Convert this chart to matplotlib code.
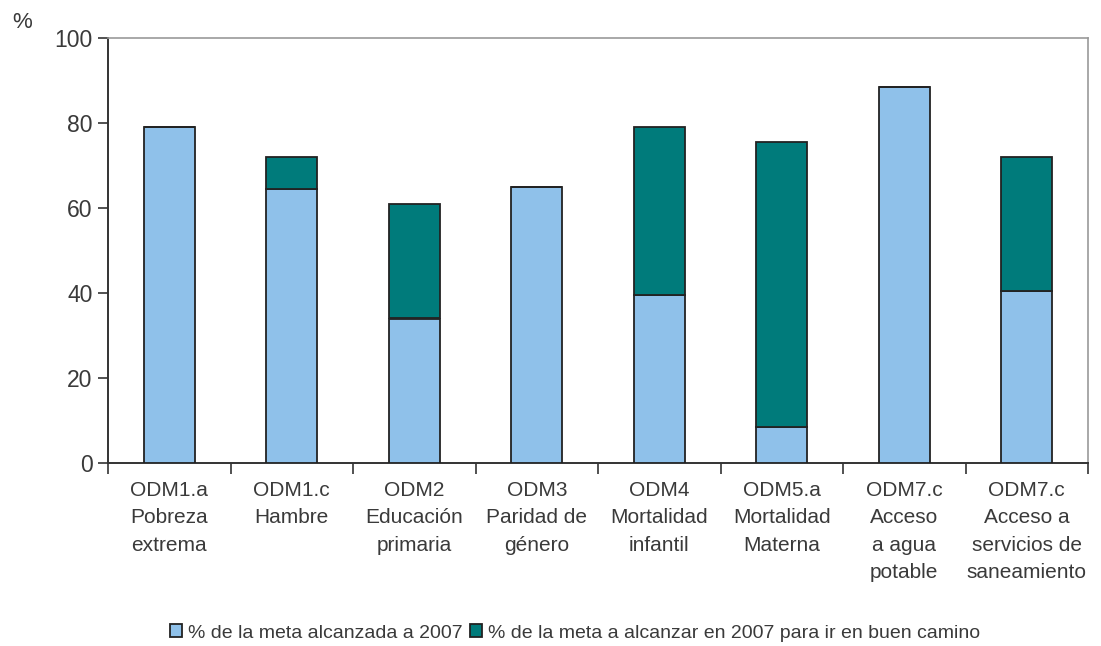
import matplotlib.pyplot as plt
import numpy as np

# Data
categories = [
    "ODM1.a\nPobreza\nextrema",
    "ODM1.c\nHambre",
    "ODM2\nEducación\nprimaria",
    "ODM3\nParidad de\ngénero",
    "ODM4\nMortalidad\ninfantil",
    "ODM5.a\nMortalidad\nMaterna",
    "ODM7.c\nAcceso\na agua\npotable",
    "ODM7.c\nAcceso a\nservicios de\nsaneamiento",
]
alcanzada = [79, 64.5, 34, 65, 39.5, 8.5, 88.5, 40.5]
a_alcanzar = [79, 72, 61, 65, 79, 75.5, 88.5, 72]
legend_labels = ["% de la meta alcanzada a 2007",
                 "% de la meta a alcanzar en 2007 para ir en buen camino"]

blue = "#8fc1ea"
teal = "#007b7b"
text_col = "#3a3a3a"

plt.rcParams['font.family'] = ['Liberation Sans', 'DejaVu Sans']

fig = plt.figure(figsize=(11.01, 6.46), dpi=100)
ax = fig.add_axes([108 / 1101, 1 - 463 / 646, 980 / 1101, 425 / 646])

x = np.arange(len(categories))
remaining = np.array(a_alcanzar) - np.array(alcanzada)
w = 0.42
ax.bar(x, alcanzada, width=w, color=blue, edgecolor="#222222", linewidth=1.3,
       label=legend_labels[0], zorder=3)
ax.bar(x, remaining, bottom=alcanzada, width=w, color=teal, edgecolor="#222222",
       linewidth=1.3, label=legend_labels[1], zorder=3)

ax.set_xlim(-0.5, len(categories) - 0.5)
ax.set_ylim(0, 100)
ax.set_yticks(range(0, 101, 20))
ax.tick_params(axis='y', direction='out', length=7, width=1.2, colors="#333333",
               labelsize=16.5, labelcolor=text_col, pad=4)

# x ticks at category boundaries, labels at centers
ax.set_xticks(np.arange(-0.5, len(categories), 1))
ax.set_xticklabels([])
ax.set_xticks(x, minor=True)
ax.set_xticklabels(categories, minor=True, fontsize=15, color=text_col,
                   linespacing=1.55, va='top')
ax.tick_params(axis='x', which='major', direction='out', length=8, width=1.2,
               colors="#333333")
ax.tick_params(axis='x', which='minor', length=0, pad=13)

for s in ['left', 'bottom']:
    ax.spines[s].set_color("#333333")
    ax.spines[s].set_linewidth(1.4)
for s in ['top', 'right']:
    ax.spines[s].set_color("#999999")
    ax.spines[s].set_linewidth(1.2)

fig.text(12 / 1101, 1 - 22 / 646, "%", fontsize=16, color=text_col, va='center')

fig.legend(loc='center', bbox_to_anchor=(575 / 1101, 1 - 633 / 646), ncol=2,
           frameon=False, fontsize=14, handlelength=0.6, handleheight=0.6,
           handletextpad=0.3, columnspacing=0.4, labelcolor=text_col)

fig.savefig("out.png", dpi=100)
